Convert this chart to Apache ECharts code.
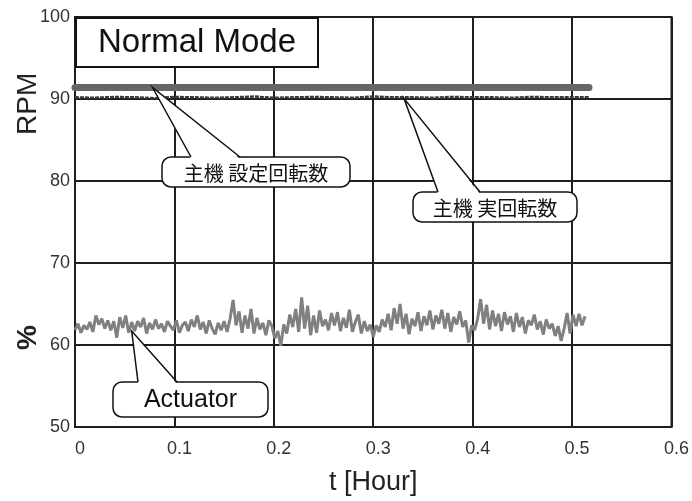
<!DOCTYPE html>
<html><head><meta charset="utf-8">
<script src="https://cdn.jsdelivr.net/npm/echarts@6/dist/echarts.min.js"></script>
<style>html,body{margin:0;padding:0;background:#fff}#c{width:692px;height:501px}</style>
</head><body><div id="c"></div>
<script>
// ---- data ----
const xTicks = ['0','0.1','0.2','0.3','0.4','0.5','0.6'];
const yTicks = ['50','60','70','80','90','100'];
const setSpeedT = [0, 0.517];
const setSpeed = [91.4, 91.4];
const actualStep = 0.02;
const actualSpeed = [90.2,90.15,90.25,90.2,90.1,90.25,90.2,90.15,90.2,90.3,90.15,90.2,90.25,90.2,
  90.15,90.3,90.2,90.2,90.15,90.25,90.2,90.2,90.15,90.25,90.2,90.2,90.2];
const actuatorStep = 0.003;
const actuator = [
 61.8,62.6,61.5,62.4,61.9,62.8,61.6,63.6,62.5,63.2,
 62.0,63.0,61.8,62.9,60.9,63.4,62.1,63.6,61.5,62.8,
 61.7,62.9,62.2,63.3,61.4,62.7,61.9,63.1,62.0,62.6,
 61.6,62.9,62.3,61.8,63.0,61.5,62.4,62.8,61.7,63.1,
 62.2,63.6,61.9,62.8,61.4,63.0,62.0,61.3,62.7,61.8,
 62.9,61.6,63.2,65.5,62.4,64.1,61.5,63.6,62.0,64.4,
 61.4,63.3,61.9,62.7,61.2,63.0,62.3,60.8,61.7,59.9,
 62.5,61.4,63.7,62.2,64.4,61.6,65.8,62.0,64.8,61.2,
 63.6,61.5,64.2,62.3,63.1,61.8,63.9,62.4,64.0,61.7,
 63.3,62.1,64.3,61.6,62.8,63.7,61.4,62.9,61.7,62.5,
 61.0,62.4,61.6,63.1,62.2,63.8,61.8,64.5,62.6,65.0,
 62.0,63.8,61.3,63.2,62.3,64.0,61.7,63.5,62.4,64.2,
 61.9,63.6,62.6,64.3,62.0,63.9,61.6,63.4,62.5,64.1,
 62.2,63.0,60.3,62.4,61.8,63.2,65.6,62.6,64.9,61.9,
 64.2,62.3,63.8,61.7,64.0,62.5,63.5,61.6,63.9,62.2,
 63.4,61.4,63.0,62.4,63.7,61.9,62.9,61.3,63.1,62.0,
 62.6,61.1,62.3,60.5,62.0,63.9,61.4,63.7,62.3,63.8,
 62.4,63.5];
// callout anchors (data coords) and texts
const callouts = [
  {text:'主機 設定回転数', tip:[0.078, 91.4], box:[162,157,188,30], base:[191,240]},
  {text:'主機 実回転数', tip:[0.331, 90.05], box:[413,192,164,30], base:[438,480]},
  {text:'Actuator', tip:[0.057, 61.7], box:[113,382,155,35], base:[138,177], latin:true}
];

const actPairs = actuator.map((v,i)=>[+(i*actuatorStep).toFixed(4), v]);
const actualPairs = actualSpeed.map((v,i)=>[Math.min(+(i*actualStep).toFixed(3),0.517), v]);
const setPairs = setSpeed.map((v,i)=>[setSpeedT[i], v]);

const chart = echarts.init(document.getElementById('c'));
const lineCol = '#1e1e1e';
chart.setOption({
  animation:false,
  grid:{left:75, top:17, right:19, bottom:69, show:true, borderColor:lineCol, borderWidth:2},
  xAxis:{type:'value', min:0, max:0.6, interval:0.1,
    axisLine:{show:false}, axisTick:{show:false},
    splitLine:{show:true, lineStyle:{color:lineCol, width:2}},
    axisLabel:{margin:13, fontSize:18, color:'#333', fontFamily:'Liberation Sans', padding:[0,0,0,10],
      formatter:(v)=>{const i=Math.round(v*10); return xTicks[i]!==undefined?xTicks[i]:'';}},
    name:'t [Hour]', nameLocation:'middle', nameGap:42,
    nameTextStyle:{fontSize:27, color:'#222', fontFamily:'Liberation Sans'}},
  yAxis:{type:'value', min:50, max:100, interval:10,
    axisLine:{show:false}, axisTick:{show:false},
    splitLine:{show:true, lineStyle:{color:lineCol, width:2}},
    axisLabel:{margin:5, fontSize:18, color:'#333', fontFamily:'Liberation Sans',
      formatter:(v)=>{const i=Math.round((v-50)/10); return yTicks[i]!==undefined?yTicks[i]:'';}}},
  series:[
    {name:'主機 実回転数', type:'line', data:actualPairs, showSymbol:false, z:3,
      lineStyle:{color:'#3a3a3a', width:2.5, type:[4,1]}},
    {name:'主機 設定回転数', type:'line', data:setPairs, showSymbol:false, z:4,
      lineStyle:{color:'#666', width:7, cap:'round'}},
    {name:'Actuator', type:'line', data:actPairs, showSymbol:false, z:4,
      lineStyle:{color:'#808080', width:3}}
  ]
});

const g = [];
// axis titles on the left
g.push({type:'text', rotation:Math.PI/2, x:14, y:135, style:{text:'RPM', font:'28px "Liberation Sans"', fill:'#222'}});
g.push({type:'text', rotation:Math.PI/2, x:14, y:350, style:{text:'%', font:'bold 28px "Liberation Sans"', fill:'#222'}});
// Normal Mode box
g.push({type:'rect', shape:{x:76,y:18,width:242,height:49}, style:{fill:'#fff', stroke:'#111', lineWidth:2}, z:10});
g.push({type:'text', x:197, y:43, style:{text:'Normal Mode', font:'33px "Liberation Sans"', fill:'#111', textAlign:'center', textVerticalAlign:'middle'}, z:11});
callouts.forEach(c=>{
  const tip = chart.convertToPixel({gridIndex:0}, c.tip);
  const [bx,by,bw,bh] = c.box;
  const [b1,b2] = c.base;
  g.push({type:'rect', shape:{x:bx,y:by,width:bw,height:bh,r:9}, style:{fill:'#fff', stroke:'#111', lineWidth:1.5}, z:10});
  g.push({type:'polygon', shape:{points:[tip,[b1,by+2],[b2,by+2]]}, style:{fill:'#fff', stroke:null}, z:11});
  g.push({type:'polyline', shape:{points:[[b1,by],tip,[b2,by]]}, style:{fill:null, stroke:'#111', lineWidth:1.5}, z:12});
  g.push({type:'text', x:bx+bw/2, y:by+bh/2+1, style:{text:c.text,
    font:(c.latin?'25px "Liberation Sans"':'20px "Noto Sans CJK JP"'), fill:'#111', textAlign:'center', textVerticalAlign:'middle'}, z:13});
});
chart.setOption({graphic:g});
</script></body></html>
